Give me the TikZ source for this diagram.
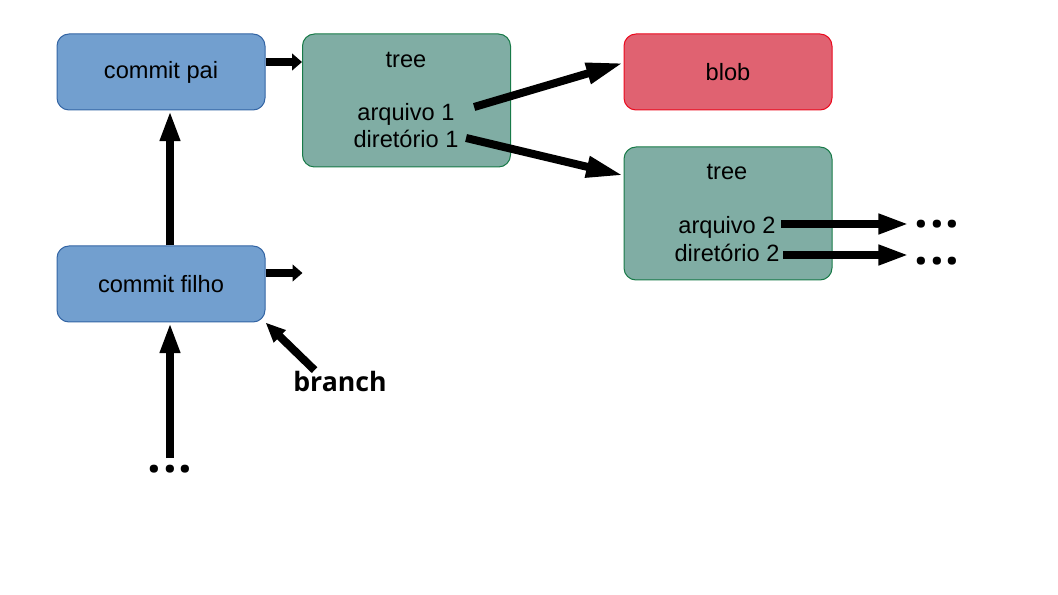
\documentclass[tikz,border=0pt]{standalone}
\usepackage{fontspec}
\setmainfont{Liberation Sans}
\newfontfamily\branchfont{Open Sans}
\usepackage{tikz}
\usetikzlibrary{arrows.meta}
\usetikzlibrary{calc}

\begin{document}
\begin{tikzpicture}[x=0.75pt,y=0.75pt,yscale=-1,xscale=1,
  font=\fontsize{17.7}{21}\selectfont,
  box/.style={draw, line width=0.75pt, rounded corners=9pt, minimum width=156pt, inner sep=0pt},
  commitbox/.style={box, draw={rgb, 255:red, 52; green, 101; blue, 164}, fill={rgb, 255:red, 114; green, 159; blue, 207}, minimum height=57pt},
  treebox/.style={box, draw={rgb, 255:red, 24; green, 122; blue, 72}, fill={rgb, 255:red, 128; green, 173; blue, 164}, minimum height=99.75pt},
  blobbox/.style={box, draw={rgb, 255:red, 235; green, 10; blue, 30}, fill={rgb, 255:red, 224; green, 98; blue, 113}, minimum height=57pt},
  lbl/.style={inner sep=1pt, text height=12.5pt, text depth=3.5pt, anchor=base},
  branchlbl/.style={inner sep=1pt, anchor=base, font=\branchfont\bfseries\fontsize{20}{24}\selectfont},
  dotsnode/.style={inner sep=0pt, anchor=base, text height=5pt, text depth=0pt, font=\branchfont\bfseries\fontsize{36}{40}\selectfont},
  fatarrow/.style={line width=6pt, -{Triangle[length=23pt,width=14pt]}},
  longarrow/.style={line width=6pt, -{Triangle[length=28pt,width=15pt]}},
  stubarrow/.style={line width=6pt, -{Triangle[length=7.5pt,width=12.5pt]}},
  brancharrow/.style={line width=6pt, -{Triangle[length=15pt,width=12pt]}}]
\useasboundingbox (0,0) rectangle (1058,595);

%Rounded Rect: commits
\node[commitbox] (pai) at (161,72) {commit pai};
\node[commitbox] (filho) at (161,284) {commit filho};
%Rounded Rect: trees and blob
\node[treebox] (tree1) at (406.5,100.5) {};
\node[blobbox] (blob) at (728,72) {blob};
\node[treebox] (tree2) at (728,213.5) {};

% Text Node
\node[lbl] (lblA) at (406,68) {tree};
\node[lbl] (arq1) at (406,121) {arquivo 1};
\node[lbl] (dir1) at (406,148) {diretório 1};
\node[lbl] (lblB) at (727,180) {tree};
\node[lbl] (arq2) at (727,234) {arquivo 2};
\node[lbl] (dir2) at (727,262) {diretório 2};
\node[branchlbl] (branch) at (340,392) {branch};
\node[dotsnode] (dotsA) at (170,473) {.\kern1.6pt.\kern1.6pt.};
\node[dotsnode] (dotsB) at (937,228) {.\kern1.6pt.\kern1.6pt.};
\node[dotsnode] (dotsC) at (937,265) {.\kern1.6pt.\kern1.6pt.};

%Arrows: commits
\draw[stubarrow] ($(pai.east)+(0,-10)$) -- ($(pai.east -| tree1.west)+(0,-10)$);
\draw[stubarrow] ($(filho.east)+(0,-11)$) -- ++(37,0);
\draw[fatarrow] ($(filho.north)+(9,0)$) -- ($(pai.south)+(9,0)$);
\draw[fatarrow, shorten <=6pt] (dotsA.north) -- (dotsA.north |- filho.south);
\draw[brancharrow] (branch.155) -- (filho.south east);
%Arrows: tree entries
\draw[longarrow] ($(arq1.east)+(18,-8)$) -- (blob.175);
\draw[longarrow] ($(dir1.east)+(6,-4)$) -- (tree2.160);
\draw[fatarrow] ($(arq2.east)+(4,-4)$) -- ($(arq2.east -| dotsB.west)+(-5,-4)$);
\draw[fatarrow] ($(dir2.east)+(2,-1)$) -- ($(dir2.east -| dotsC.west)+(-5,-1)$);

\end{tikzpicture}
\end{document}
